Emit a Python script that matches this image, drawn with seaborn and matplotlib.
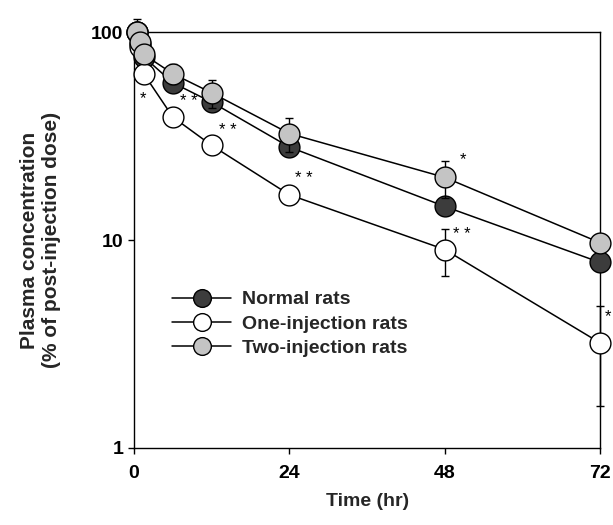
import numpy as np
import pandas as pd
import matplotlib
matplotlib.use("Agg")
import matplotlib.pyplot as plt
import seaborn as sns

# datos
tiempo = [0.5, 1, 1.5, 6, 12, 24, 48, 72]
normales = [100, 88, 76, 57, 46, 28, 14.5, 7.8]
una_iny = [100, 85, 63, 39, 28.5, 16.5, 9.0, 3.2]
dos_iny = [100, 90, 78, 63, 51, 32.5, 20, 9.7]
err_dos = [15, 6, 6, 7, 8, 6, 4, 0]
err_una = [0, 0, 0, 0, 0, 0, 2.3, 1.6]
err_norm = [0, 0, 0, 0, 0, 0, 0, 0.6]

series = [
    ("Normal rats", normales, err_norm, "#3c3c3c"),
    ("One-injection rats", una_iny, err_una, "white"),
    ("Two-injection rats", dos_iny, err_dos, "#c4c4c4"),
]

# asteriscos: (serie, indice, texto, dx, dy en puntos)
marcas = [
    (una_iny, 2, "*", -3, -18),
    (una_iny, 3, "* *", 5, 11),
    (una_iny, 4, "* *", 5, 11),
    (una_iny, 5, "* *", 4, 12),
    (una_iny, 6, "* *", 6, 11),
    (una_iny, 7, "*", 3, 19),
    (dos_iny, 6, "*", 11, 13),
]

sns.set_theme(style="ticks")
plt.rcParams["font.family"] = ["Liberation Sans", "DejaVu Sans"]

fig = plt.figure(figsize=(6.13, 5.25), dpi=100)
ax = fig.add_axes([0.2186, 0.1467, 0.7604, 0.7923])

orden_z = {"Normal rats": 3, "One-injection rats": 4, "Two-injection rats": 5}
for nombre, valores, errores, color in series:
    df = pd.DataFrame({"t": tiempo, "v": valores})
    z = orden_z[nombre]
    err = np.array(errores)
    mask = err > 0
    if mask.any():
        ax.errorbar(np.array(tiempo)[mask], np.array(valores)[mask], yerr=err[mask],
                    fmt="none", ecolor="black", elinewidth=1.0, capsize=3, capthick=1.0,
                    zorder=z - 0.5, clip_on=False)
    sns.lineplot(data=df, x="t", y="v", ax=ax, color="black", linewidth=1.1,
                 marker="o", markersize=15, markerfacecolor=color,
                 markeredgecolor="black", markeredgewidth=1.0, label=nombre,
                 zorder=z, clip_on=False)

for valores, i, txt, dx, dy in marcas:
    ax.annotate(txt, (tiempo[i], valores[i]), xytext=(dx, dy), textcoords="offset points",
                fontsize=12, ha="left", va="center", color="black")

ax.set_yscale("log")
ax.set_ylim(1, 100)
ax.set_xlim(0, 72)
ax.set_xticks([0, 24, 48, 72])
ax.set_yticks([1, 10, 100])
ax.set_yticklabels(["1", "10", "100"])
ax.yaxis.set_minor_locator(matplotlib.ticker.NullLocator())
ax.tick_params(axis="both", labelsize=14, width=1, length=4, direction="out", colors="black")
ax.tick_params(axis="x", pad=8)
for lab in ax.get_xticklabels() + ax.get_yticklabels():
    lab.set_fontweight("bold")

for s in ax.spines.values():
    s.set_visible(True)
    s.set_color("black")
    s.set_linewidth(1.0)

ax.set_xlabel("Time (hr)", fontsize=14, fontweight="bold", labelpad=8)
ax.set_ylabel("Plasma concentration\n(% of post-injection dose)", fontsize=15,
              fontweight="bold", labelpad=22)

leg = ax.legend(loc="upper left", bbox_to_anchor=(0.045, 0.42), frameon=False,
                fontsize=14, handlelength=3.0, labelspacing=0.35, handletextpad=0.6,
                markerscale=0.85)
for t in leg.get_texts():
    t.set_fontweight("bold")

fig.savefig("out.png", dpi=100)
